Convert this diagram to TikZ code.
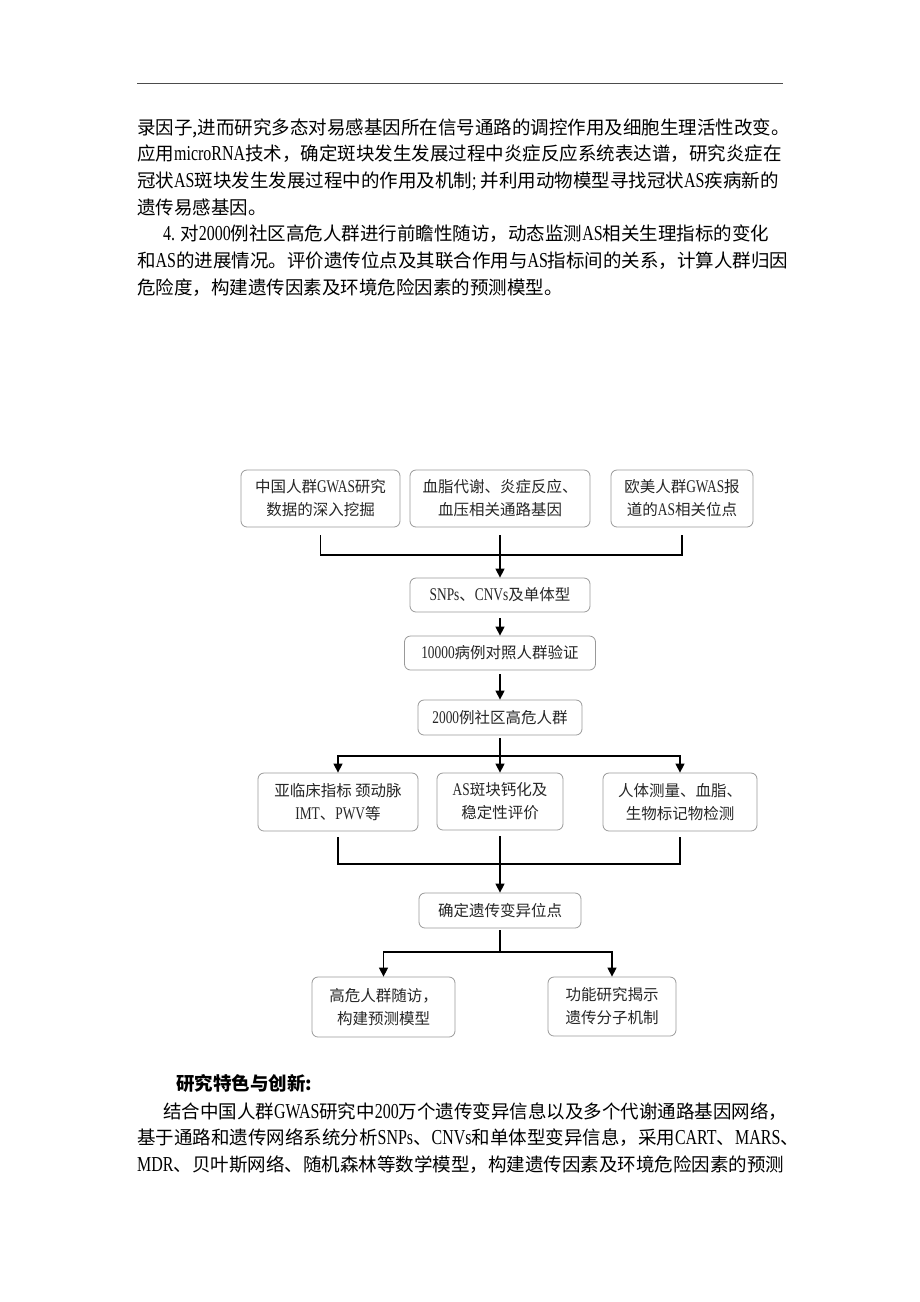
\documentclass[tikz,border=0pt]{standalone}
\usepackage{fontspec}
\setmainfont{Liberation Serif}
\newfontfamily\cjk{Noto Sans CJK SC}
\newfontfamily\lat[FakeStretch=0.75,Scale=1.15]{Liberation Serif}
\newcommand\en[1]{{\lat #1}}
\usetikzlibrary{arrows.meta}

\begin{document}
\begin{tikzpicture}[x=1pt,y=-1pt,
    box/.style={draw=black!40, rounded corners=6pt, line width=0.8pt,
      align=center, inner sep=0pt, text=black!85,
      font=\cjk\fontsize{15.5}{23}\selectfont},
    txt/.style={anchor=base west, inner sep=0pt,
      font=\cjk\fontsize{18.5}{18.5}\selectfont},
    link/.style={line width=1.4pt},
    arr/.style={line width=1.4pt, -{Triangle[length=9pt,width=9pt]}}]
  \fill[white] (0,0) rectangle (920,1302);
  \useasboundingbox (0,0) rectangle (920,1302);
  % header rule
  \draw[black!70, line width=0.8pt] (137,83) -- (783,83);

  % text above the chart
  \node[txt] (p1) at (137,134) {录因子,进而研究多态对易感基因所在信号通路的调控作用及细胞生理活性改变。};
  \node[txt] (p2) at (137,160) {应用\en{microRNA}技术，确定斑块发生发展过程中炎症反应系统表达谱，研究炎症在};
  \node[txt] (p3) at (137,187) {冠状\en{AS}斑块发生发展过程中的作用及机制\en{;} 并利用动物模型寻找冠状\en{AS}疾病新的};
  \node[txt] (p4) at (137,214) {遗传易感基因。};
  \node[txt] (p5) at (163,240) {\en{4. }对\en{2000}例社区高危人群进行前瞻性随访，动态监测\en{AS}相关生理指标的变化};
  \node[txt] (p6) at (137,267) {和\en{AS}的进展情况。评价遗传位点及其联合作用与\en{AS}指标间的关系，计算人群归因};
  \node[txt] (p7) at (137,294) {危险度，构建遗传因素及环境危险因素的预测模型。};

  % flow chart
  \node[box, minimum width=159pt, minimum height=57pt] (gwas) at (320.5,498.5) {中国人群\en{GWAS}研究\\数据的深入挖掘};
  \node[box, minimum width=180pt, minimum height=57pt] (path) at (500,498.5) {血脂代谢、炎症反应、\\血压相关通路基因};
  \node[box, minimum width=142pt, minimum height=57pt] (euro) at (682,498.5) {欧美人群\en{GWAS}报\\道的\en{AS}相关位点};
  \node[box, minimum width=180pt, minimum height=34pt] (snp) at (500,595) {\en{SNPs}、\en{CNVs}及单体型};
  \node[box, minimum width=191pt, minimum height=34pt] (cc) at (500,653) {\en{10000}病例对照人群验证};
  \node[box, minimum width=164pt, minimum height=35pt] (comm) at (500,717.5) {\en{2000}例社区高危人群};
  \node[box, minimum width=160pt, minimum height=58pt] (sub) at (338,802) {亚临床指标 颈动脉\\\en{IMT}、\en{PWV}等};
  \node[box, minimum width=126pt, minimum height=57pt] (plq) at (500,801.5) {\en{AS}斑块钙化及\\稳定性评价};
  \node[box, minimum width=154pt, minimum height=58pt] (body) at (680,802) {人体测量、血脂、\\生物标记物检测};
  \node[box, minimum width=162pt, minimum height=35pt] (loci) at (500,910.5) {确定遗传变异位点};
  \node[box, minimum width=143pt, minimum height=60pt] (fup) at (383.5,1007) {高危人群随访，\\构建预测模型};
  \node[box, minimum width=128pt, minimum height=59pt] (func) at (612,1006.5) {功能研究揭示\\遗传分子机制};

  \coordinate (m1) at (500,555);
  \coordinate (m2) at (500,756);
  \coordinate (m3) at (500,864);
  \coordinate (m4) at (500,952);

  \draw[link] ([yshift=-8pt]gwas.south) |- (m1) -| ([yshift=-8pt]euro.south);
  \draw[arr] ([yshift=-8pt]path.south) -- (snp.north);
  \draw[arr] ([yshift=-6pt]snp.south) -- (cc.north);
  \draw[arr] ([yshift=-4pt]cc.south) -- (comm.north);
  \draw[link] ([yshift=-3pt]comm.south) -- (m2);
  \draw[arr] (m2) -| (sub.north);
  \draw[arr] (m2) -| (body.north);
  \draw[arr] (m2) -- (plq.north);
  \draw[link] ([yshift=-6pt]sub.south) |- (m3) -| ([yshift=-6pt]body.south);
  \draw[arr] ([yshift=-6pt]plq.south) -- (loci.north);
  \draw[link] ([yshift=-2pt]loci.south) -- (m4);
  \draw[arr] (m4) -| (fup.north);
  \draw[arr] (m4) -| (func.north);

  % text below the chart
  \node[txt, font=\cjk\bfseries\fontsize{18.5}{18.5}\selectfont] (head) at (176,1090) {研究特色与创新:};
  \node[txt] (q1) at (163,1118) {结合中国人群\en{GWAS}研究中\en{200}万个遗传变异信息以及多个代谢通路基因网络，};
  \node[txt] (q2) at (137,1144) {基于通路和遗传网络系统分析\en{SNPs}、\en{CNVs}和单体型变异信息，采用\en{CART}、\en{MARS}、};
  \node[txt] (q3) at (137,1171) {\en{MDR}、贝叶斯网络、随机森林等数学模型，构建遗传因素及环境危险因素的预测};
\end{tikzpicture}
\end{document}
